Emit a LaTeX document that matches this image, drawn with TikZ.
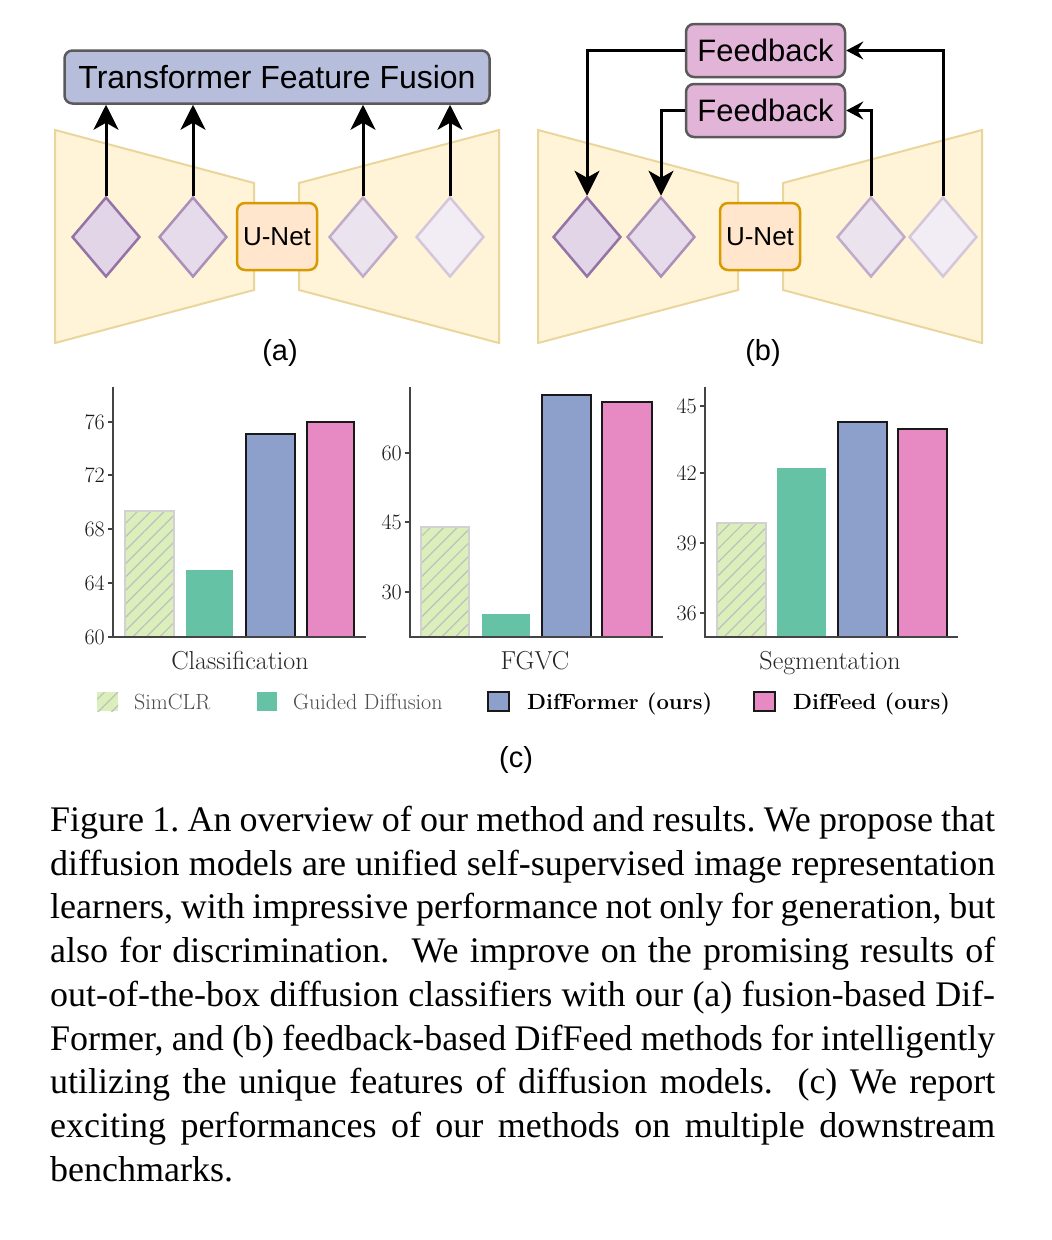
\documentclass[tikz,border=0pt]{standalone}
\usepackage{fontspec}
\usepackage{tikz}
\usetikzlibrary{arrows.meta,shapes.geometric,patterns.meta}
\newfontfamily\arialfont{Liberation Sans}
\newfontfamily\timesfont{Liberation Serif}

\definecolor{trapfill}{HTML}{FFF4D8}
\definecolor{trapdraw}{HTML}{EAD69C}
\definecolor{diafill}{HTML}{E1D5E7}
\definecolor{diadraw}{HTML}{9673A6}
\definecolor{netfill}{HTML}{FFE6CC}
\definecolor{netdraw}{HTML}{D79B00}
\definecolor{fusefill}{HTML}{B6BEDC}
\definecolor{boxdraw}{HTML}{5A5A5A}
\definecolor{feedfill}{HTML}{E2B5D8}
\definecolor{simclr}{HTML}{DBEFBB}
\definecolor{guided}{HTML}{66C2A5}
\definecolor{difformer}{HTML}{8DA0CB}
\definecolor{diffeed}{HTML}{E78AC3}
\definecolor{axisgray}{HTML}{444444}

\newcommand{\capline}[1]{\leavevmode\hbox to 945pt{\spaceskip=0.25em plus 0.2em minus 0.1em\relax #1}}

\begin{document}
\begin{tikzpicture}[x=1pt,y=-1pt,
		trap/.style={fill=trapfill,draw=trapdraw,line width=2pt},
		rombo/.style={diamond,minimum width=68pt,minimum height=80pt,inner sep=0pt,line width=2.5pt},
		unet/.style={draw=netdraw,fill=netfill,rounded corners=8pt,line width=2.5pt,minimum width=80pt,minimum height=67pt,inner sep=0pt,font=\arialfont\fontsize{26}{30}\selectfont},
		caja/.style={draw=boxdraw,rounded corners=8pt,line width=2.5pt,inner sep=0pt,font=\arialfont\fontsize{31}{36}\selectfont},
		flecha/.style={line width=3pt,-{Stealth[length=25pt,width=25pt,inset=7pt]}},
		flechita/.style={line width=3pt,-{Stealth[length=17pt,width=18pt,inset=6pt]}},
		panel/.style={font=\arialfont\fontsize{29}{34}\selectfont,inner sep=0pt},
		ejes/.style={draw=axisgray,line width=1.5pt},
		ticklab/.style={anchor=east,inner sep=0pt,text=black!90,font=\fontsize{22}{26}\selectfont},
		tarea/.style={anchor=base,inner sep=0pt,text=black!85,font=\fontsize{26}{30}\selectfont},
		leyenda/.style={anchor=base west,inner sep=0pt,font=\fontsize{22}{26}\selectfont},
		rayado/.style={pattern={Lines[angle=45,distance=9.5pt,line width=1.2pt]},pattern color=black!25},
		barra/.style={draw=black!90,line width=1.5pt}]

	\path[use as bounding box,fill=white] (0,0) rectangle (1052,1240);

	% (a) DifFormer
	\draw[trap] (55,130) -- (254,183) -- (254,290) -- (55,343) -- cycle;
	\draw[trap] (299,183) -- (499,130) -- (499,343) -- (299,290) -- cycle;
	\node[caja,fill=fusefill,minimum width=425pt,minimum height=53pt,font=\arialfont\fontsize{32}{36}\selectfont] (tff) at (277,77) {Transformer Feature Fusion};
	\node[unet] (unetA) at (277,236.5) {U-Net};
	\node[rombo,fill=diafill,draw=diadraw] (a1) at (106,237) {};
	\node[rombo,fill=diafill!85!white,draw=diadraw!80!white] (a2) at (193,237) {};
	\node[rombo,fill=diafill!65!white,draw=diadraw!60!white] (a3) at (363,237) {};
	\node[rombo,fill=diafill!45!white,draw=diadraw!40!white] (a4) at (450,237) {};
	\foreach \d in {a1,a2,a3,a4}
		\draw[flecha] (\d.north) -- (\d.north |- tff.south);
	\node[panel] (lblA) at (280,353) {(a)};

	% (b) DifFeed
	\draw[trap] (538,130) -- (738,183) -- (738,290) -- (538,343) -- cycle;
	\draw[trap] (783,183) -- (982,130) -- (982,343) -- (783,290) -- cycle;
	\node[caja,fill=feedfill,minimum width=159pt,minimum height=53pt] (fb1) at (765.5,50.5) {Feedback};
	\node[caja,fill=feedfill,minimum width=159pt,minimum height=53pt] (fb2) at (765.5,110.5) {Feedback};
	\node[unet] (unetB) at (760,236.5) {U-Net};
	\node[rombo,fill=diafill,draw=diadraw] (b1) at (587,237) {};
	\node[rombo,fill=diafill!85!white,draw=diadraw!80!white] (b2) at (661,237) {};
	\node[rombo,fill=diafill!65!white,draw=diadraw!60!white] (b3) at (871,237) {};
	\node[rombo,fill=diafill!45!white,draw=diadraw!40!white] (b4) at (943,237) {};
	\draw[flecha] (fb1.west) -| (b1.north);
	\draw[flecha] (fb2.west) -| (b2.north);
	\draw[flechita] (b4.north) |- (fb1.east);
	\draw[flechita] (b3.north) |- (fb2.east);
	\node[panel] (lblB) at (763,353) {(b)};

	% (c) Classification
	\fill[simclr] (125,637) rectangle (174,511);
	\fill[rayado] (125,637) rectangle (174,511);
	\draw[black!18,line width=1.2pt] (125,637) rectangle (174,511);
	\fill[guided] (186,637) rectangle (233,570);
	\draw[barra,fill=difformer] (246,637) rectangle (295,434);
	\draw[barra,fill=diffeed] (307,637) rectangle (354,422);
	\draw[ejes] (113,387) -- (113,637) -- (366,637);
	\foreach \v/\y in {60/637,64/583,68/529,72/475,76/422}{
		\draw[ejes] (108,\y) -- (113,\y);
		\node[ticklab] (cl\v) at (105,\y) {\v};
	}
	\node[tarea] (tcl) at (240,669) {Classification};

	% FGVC
	\fill[simclr] (421,637) rectangle (469,527);
	\fill[rayado] (421,637) rectangle (469,527);
	\draw[black!18,line width=1.2pt] (421,637) rectangle (469,527);
	\fill[guided] (482,637) rectangle (530,614);
	\draw[barra,fill=difformer] (542,637) rectangle (591,395);
	\draw[barra,fill=diffeed] (602,637) rectangle (652,402);
	\draw[ejes] (410,387) -- (410,637) -- (663,637);
	\foreach \v/\y in {30/592,45/522,60/453}{
		\draw[ejes] (405,\y) -- (410,\y);
		\node[ticklab] (fg\v) at (402,\y) {\v};
	}
	\node[tarea] (tfg) at (535,669) {FGVC};

	% Segmentation
	\fill[simclr] (717,637) rectangle (766,523);
	\fill[rayado] (717,637) rectangle (766,523);
	\draw[black!18,line width=1.2pt] (717,637) rectangle (766,523);
	\fill[guided] (777,637) rectangle (826,468);
	\draw[barra,fill=difformer] (838,637) rectangle (887,422);
	\draw[barra,fill=diffeed] (898,637) rectangle (947,429);
	\draw[ejes] (705,387) -- (705,637) -- (958,637);
	\foreach \v/\y in {36/613,39/543,42/473,45/406}{
		\draw[ejes] (700,\y) -- (705,\y);
		\node[ticklab] (sg\v) at (697,\y) {\v};
	}
	\node[tarea] (tsg) at (830,669) {Segmentation};

	% Leyenda
	\fill[simclr] (97,692) rectangle (118,711);
	\fill[rayado] (97,692) rectangle (118,711);
	\fill[guided] (257,692) rectangle (277,711);
	\draw[barra,fill=difformer] (488,692) rectangle (509,711);
	\draw[barra,fill=diffeed] (754,692) rectangle (775,711);
	\node[leyenda,text=black!70] (lsim) at (134,709) {SimCLR};
	\node[leyenda,text=black!70] (lgui) at (293,709) {Guided Diffusion};
	\node[leyenda] (ldfo) at (527,709) {\bfseries DifFormer (ours)};
	\node[leyenda] (ldfe) at (793,709) {\bfseries DifFeed (ours)};
	\node[panel] (lblC) at (516,760) {(c)};

	% Pie de figura
	\node[anchor=north west,inner sep=0pt,text width=945pt,align=left,
		font=\timesfont\fontsize{36}{43.7}\selectfont\frenchspacing] (pie) at (50,806) {%
		\capline{Figure 1. An overview of our method and results. We propose that}\\
		\capline{diffusion models are unified self-supervised image representation}\\
		\capline{learners, with impressive performance not only for generation, but}\\
		\capline{also for discrimination.\ \ We improve on the promising results of}\\
		\capline{out-of-the-box diffusion classifiers with our (a) fusion-based Dif-}\\
		\capline{Former, and (b) feedback-based DifFeed methods for intelligently}\\
		\capline{utilizing the unique features of diffusion models.\ \ (c) We report}\\
		\capline{exciting performances of our methods on multiple downstream}\\
		benchmarks.};

\end{tikzpicture}
\end{document}
